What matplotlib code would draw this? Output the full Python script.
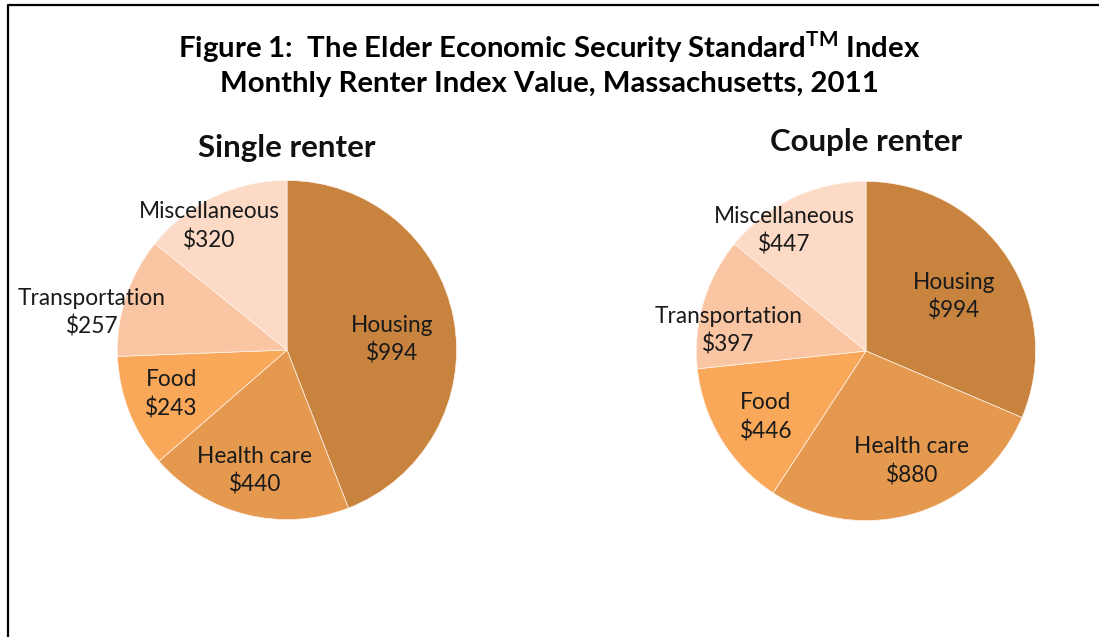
import matplotlib
matplotlib.use("Agg")
import matplotlib.pyplot as plt
from matplotlib.lines import Line2D

categories = ["Housing", "Health care", "Food", "Transportation", "Miscellaneous"]
single_values = [994, 440, 243, 257, 320]
couple_values = [994, 880, 446, 397, 447]
colors = ["#C8843F", "#E5994F", "#F9A85A", "#FAC5A2", "#FCDAC6"]

# label centres in pie units (radius = 1)
single_label_pos = [(0.62, 0.06), (-0.19, -0.71), (-0.68, -0.26), (-1.15, 0.22), (-0.46, 0.73)]
couple_label_pos = [(0.52, 0.32), (0.27, -0.65), (-0.59, -0.39), (-0.81, 0.12), (-0.48, 0.71)]

plt.rcParams["font.family"] = ["Lato", "DejaVu Sans"]
plt.rcParams["mathtext.fontset"] = "custom"
plt.rcParams["mathtext.rm"] = "Lato"
plt.rcParams["mathtext.bf"] = "Lato:bold"

W, H = 1099, 637
fig = plt.figure(figsize=(W / 100, H / 100), dpi=100)


def px_axes(cx, cy, r):
    return fig.add_axes([(cx - r) / W, (H - cy - r) / H, 2 * r / W, 2 * r / H])


def draw_pie(ax, values, label_pos, title, title_y):
    ax.pie(values, colors=colors, startangle=90, counterclock=False, radius=1,
           wedgeprops=dict(edgecolor="#fff4ec", linewidth=0.5))
    ax.set_xlim(-1.02, 1.02)
    ax.set_ylim(-1.02, 1.02)
    ax.set_aspect("equal")
    ax.axis("off")
    for name, val, (x, y) in zip(categories, values, label_pos):
        ax.text(x, y, f"{name}\n${val}", ha="center", va="center", fontsize=16.3,
                color="#1a1a1a", linespacing=1.38, clip_on=False)
    ax.text(0, title_y, title, ha="center", va="center", fontsize=22.5,
            fontweight="bold", color="#111111", clip_on=False)


ax1 = px_axes(287, 350, 173)
draw_pie(ax1, single_values, single_label_pos, "Single renter", 1.19)
ax2 = px_axes(866, 351, 173)
draw_pie(ax2, couple_values, couple_label_pos, "Couple renter", 1.23)

fig.text(0.5, 1 - 47 / H, r"Figure 1:  The Elder Economic Security Standard$^{\mathbf{TM}}$ Index",
         ha="center", va="center", fontsize=21.2, fontweight="bold")
fig.text(0.5, 1 - 84 / H, "Monthly Renter Index Value, Massachusetts, 2011",
         ha="center", va="center", fontsize=21.2, fontweight="bold")

# frame: top and left edges only are visible
fig.add_artist(Line2D([8 / W, 8 / W, 1], [0, 1 - 5 / H, 1 - 5 / H], color="black", linewidth=1.6,
                      transform=fig.transFigure))

fig.savefig("out.png", dpi=100)
